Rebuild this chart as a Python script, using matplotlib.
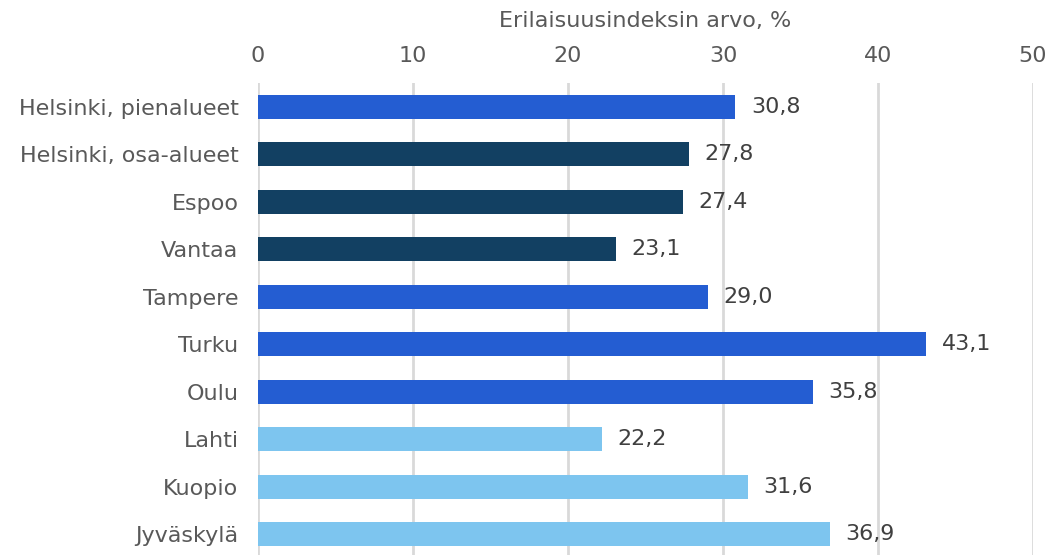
import matplotlib
matplotlib.use("Agg")
import matplotlib.pyplot as plt

categories = ["Helsinki, pienalueet", "Helsinki, osa-alueet", "Espoo", "Vantaa",
              "Tampere", "Turku", "Oulu", "Lahti", "Kuopio", "Jyväskylä"]
values = [30.8, 27.8, 27.4, 23.1, 29.0, 43.1, 35.8, 22.2, 31.6, 36.9]
groups = ["blue", "navy", "navy", "navy", "blue", "blue", "blue", "light", "light", "light"]
color_map = {"blue": "#245DD2", "navy": "#124062", "light": "#7DC5EF"}
xticks = [0, 10, 20, 30, 40, 50]
xlabel = "Erilaisuusindeksin arvo, %"

plt.rcParams['font.family'] = ['DejaVu Sans']
FS = 16

fig = plt.figure(figsize=(10.51, 5.55), dpi=100)
ax = fig.add_axes([258/1051, -3/555, (1033-258)/1051, (555+3-83)/555])

y = list(range(len(categories)))
ax.barh(y, values, height=0.5, color=[color_map[g] for g in groups], zorder=3)
for yi, v in zip(y, values):
    ax.text(v + 1.0, yi, f"{v:.1f}".replace(".", ","), va="center", ha="left",
            fontsize=FS, color="#404040")

ax.set_xlim(0, 50)
ax.set_ylim(len(categories) - 0.5, -0.5)
ax.set_yticks(y)
ax.set_yticklabels(categories, fontsize=FS, color="#595959")
ax.set_xticks(xticks)
ax.set_xticklabels([str(t) for t in xticks], fontsize=FS, color="#595959")
ax.xaxis.tick_top()
ax.xaxis.set_label_position("top")
ax.set_xlabel(xlabel, fontsize=FS, color="#595959", labelpad=14)
ax.tick_params(axis="both", length=0)
ax.tick_params(axis="x", pad=12)
ax.tick_params(axis="y", pad=14)
ax.grid(axis="x", color="#D9D9D9", linewidth=2, zorder=0)
for s in ax.spines.values():
    s.set_visible(False)

fig.savefig("out.png", dpi=100)
